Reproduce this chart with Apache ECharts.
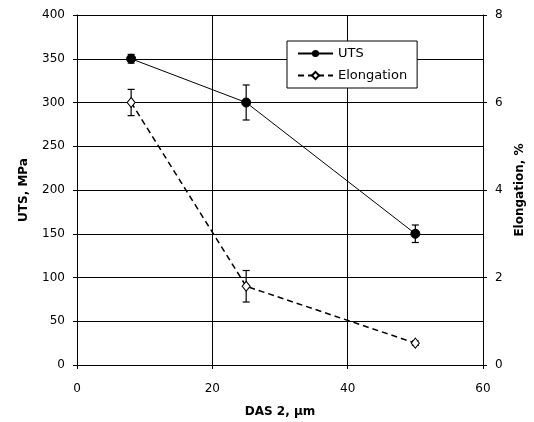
<!DOCTYPE html>
<html><head><meta charset="utf-8">
<script src="https://cdn.jsdelivr.net/npm/echarts@6/dist/echarts.min.js"></script>
<style>html,body{margin:0;padding:0;background:#fff}#c{width:534px;height:422px}</style>
</head><body><div id="c"></div>
<script>
const dasX = [8, 25, 50];
const utsValues = [350, 300, 150];
const utsErr = [5, 20, 10];
const elongValues = [6, 1.8, 0.5];
const elongErr = [0.3, 0.36, 0.05];

const chart = echarts.init(document.getElementById('c'));
const font = 'DejaVu Sans, Liberation Sans, sans-serif';

function errData(vals, errs){ return dasX.map((x,i)=>[x, vals[i]-errs[i], vals[i]+errs[i]]); }
function errRender(params, api){
  const x = api.value(0), lo = api.value(1), hi = api.value(2);
  const p1 = api.coord([x, lo]), p2 = api.coord([x, hi]);
  const hw = 3.5;
  const st = {stroke:'#000', lineWidth:1.2};
  return {type:'group', children:[
    {type:'line', shape:{x1:p1[0],y1:p1[1],x2:p2[0],y2:p2[1]}, style:st},
    {type:'line', shape:{x1:p1[0]-hw,y1:p1[1],x2:p1[0]+hw,y2:p1[1]}, style:st},
    {type:'line', shape:{x1:p2[0]-hw,y1:p2[1],x2:p2[0]+hw,y2:p2[1]}, style:st}
  ]};
}

const option = {
  animation:false,
  backgroundColor:'#fff',
  textStyle:{fontFamily:font},
  grid:{left:77, right:51, top:15, bottom:57, outerBoundsMode:'none', containLabel:false},
  legend:{
    data:['UTS','Elongation'],
    left:287, top:41, orient:'vertical',
    backgroundColor:'#fff', borderColor:'#000', borderWidth:1,
    padding:[6,10,6,10], itemGap:9, itemWidth:35, itemHeight:9,
    textStyle:{fontFamily:font, fontSize:13, color:'#000'}
  },
  xAxis:{
    type:'value', min:0, max:60, interval:20,
    name:'DAS 2, μm', nameLocation:'middle', nameGap:41,
    nameTextStyle:{fontFamily:font, fontSize:12, fontWeight:'bold', color:'#000'},
    axisLine:{onZero:false, lineStyle:{color:'#000', width:1}},
    axisTick:{show:true, length:4, inside:false, lineStyle:{color:'#000'}},
    axisLabel:{margin:18, fontSize:12, color:'#000', fontFamily:font},
    splitLine:{show:true, lineStyle:{color:'#000', width:1}}
  },
  yAxis:[{
    type:'value', min:0, max:400, interval:50,
    name:'UTS, MPa', nameLocation:'middle', nameGap:47, nameRotate:90,
    nameTextStyle:{fontFamily:font, fontSize:12, fontWeight:'bold', color:'#000'},
    axisLine:{show:true, lineStyle:{color:'#000', width:1}},
    axisTick:{show:true, length:4, lineStyle:{color:'#000'}},
    axisLabel:{margin:12, fontSize:12, color:'#000', fontFamily:font},
    splitLine:{show:true, lineStyle:{color:'#000', width:1}}
  },{
    type:'value', min:0, max:8, interval:2, position:'right',
    name:'Elongation, %', nameLocation:'middle', nameGap:30, nameRotate:90,
    nameTextStyle:{fontFamily:font, fontSize:12, fontWeight:'bold', color:'#000'},
    axisLine:{show:true, lineStyle:{color:'#000', width:1}},
    axisTick:{show:true, length:4, lineStyle:{color:'#000'}},
    axisLabel:{margin:12, fontSize:12, color:'#000', fontFamily:font},
    splitLine:{show:false}
  }],
  series:[
    {type:'custom', name:'utsErr', yAxisIndex:0, renderItem:errRender, data:errData(utsValues, utsErr), z:3, silent:true},
    {type:'custom', name:'elErr', yAxisIndex:1, renderItem:errRender, data:errData(elongValues, elongErr), z:3, silent:true},
    {type:'line', name:'UTS', yAxisIndex:0, data:dasX.map((x,i)=>[x, utsValues[i]]),
     symbol:'circle', symbolSize:9,
     lineStyle:{color:'#000', width:1}, itemStyle:{color:'#000', borderColor:'#000'}, z:4},
    {type:'line', name:'Elongation', yAxisIndex:1, data:dasX.map((x,i)=>[x, elongValues[i]]),
     symbol:'diamond', symbolSize:[8,10],
     lineStyle:{color:'#000', width:1.5, type:[6,4]}, itemStyle:{color:'#fff', borderColor:'#000', borderWidth:1}, z:4}
  ]
};
chart.setOption(option);
</script></body></html>
